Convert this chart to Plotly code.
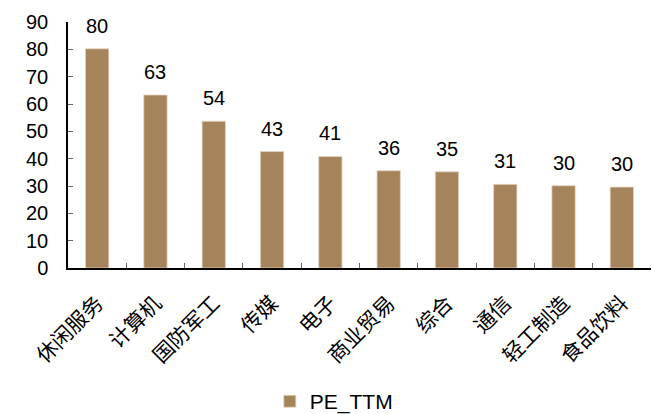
import plotly.graph_objects as go

# Industry PE (TTM), top ten sectors
categories = ["休闲服务", "计算机", "国防军工", "传媒", "电子",
              "商业贸易", "综合", "通信", "轻工制造", "食品饮料"]
pe_ttm = [80.2, 63.3, 53.7, 42.6, 40.8, 35.6, 35.2, 30.6, 30.1, 29.6]
y_ticks = [0, 10, 20, 30, 40, 50, 60, 70, 80, 90]

BAR_COLOR = "#A6845B"
LATIN_FONT = "Liberation Sans, Arial, sans-serif"
CJK_FONT = "Noto Sans CJK SC"

fig = go.Figure()
fig.add_trace(go.Bar(
    x=categories,
    y=pe_ttm,
    name="PE_TTM",
    width=0.4,
    marker=dict(color=BAR_COLOR, line=dict(color="#E3D6C4", width=0.8)),
))

# value labels above each bar
for cat, val in zip(categories, pe_ttm):
    fig.add_annotation(
        x=cat, y=val, text=f"{round(val):d}",
        showarrow=False, yanchor="bottom", yshift=10,
        font=dict(family=LATIN_FONT, size=20, color="#000000"),
    )

fig.update_layout(
    width=652, height=414,
    margin=dict(l=68, r=1, t=22, b=146, autoexpand=False),
    paper_bgcolor="white",
    plot_bgcolor="white",
    bargap=0.6,
    showlegend=True,
    legend=dict(
        orientation="h", xref="container", yref="container",
        x=0.512, y=0.03, xanchor="center", yanchor="middle",
        font=dict(family=LATIN_FONT, size=21, color="#000000"),
        itemwidth=30,
    ),
    font=dict(family=LATIN_FONT, color="#000000"),
)

fig.update_xaxes(
    type="category",
    showline=True, linecolor="#000000", linewidth=1.5,
    ticks="inside", tickson="boundaries", ticklen=5,
    tickcolor="#666666", tickwidth=1,
    tickangle=-45,
    tickfont=dict(family=CJK_FONT, size=21, color="#000000"),
    ticklabelstandoff=13,
    showgrid=False, zeroline=False,
)

fig.update_yaxes(
    range=[0, 90],
    tickvals=y_ticks,
    showline=True, linecolor="#000000", linewidth=1.5,
    ticks="inside", ticklen=5, tickcolor="#666666", tickwidth=1,
    tickfont=dict(family=LATIN_FONT, size=20, color="#000000"),
    ticklabelstandoff=14,
    showgrid=False, zeroline=False,
)

fig.write_html("out.html")
